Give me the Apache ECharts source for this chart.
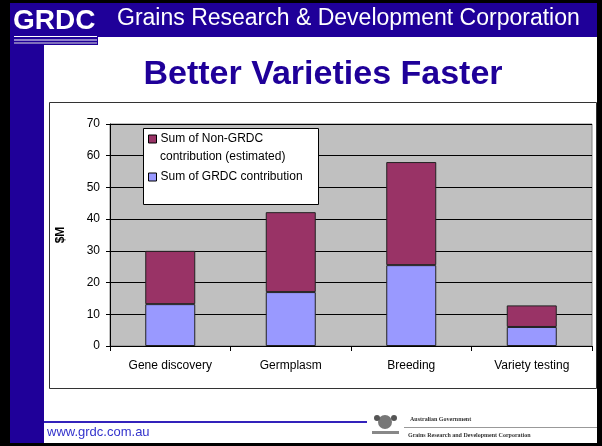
<!DOCTYPE html>
<html>
<head>
<meta charset="utf-8">
<script src="https://cdn.jsdelivr.net/npm/echarts@6/dist/echarts.min.js"></script>
<style>
html,body{margin:0;padding:0;background:#000;}
#c{width:602px;height:446px;}
</style>
</head>
<body>
<div id="c"></div>
<script>
const categories = ['Gene discovery', 'Germplasm', 'Breeding', 'Variety testing'];
const grdcValues = [13.2, 17, 25.5, 6];
const nonGrdcValues = [16.8, 25.2, 32.5, 6.8];
const yTicks = [0, 10, 20, 30, 40, 50, 60, 70];
const seriesNames = ['Sum of Non-GRDC', 'Sum of GRDC contribution'];

const BLUE = '#1f0099';
const chart = echarts.init(document.getElementById('c'), null, {renderer: 'canvas'});
const F = 'Liberation Sans, Arial, sans-serif';

chart.setOption({
  backgroundColor: '#000',
  animation: false,
  textStyle: {fontFamily: F},
  graphic: [
    // page white
    {type: 'rect', z: -10, shape: {x: 10, y: 3, width: 587, height: 440}, style: {fill: '#fff'}},
    // header bar
    {type: 'rect', z: -9, shape: {x: 10, y: 3, width: 587, height: 34}, style: {fill: BLUE}},
    // logo box
    {type: 'rect', z: -9, shape: {x: 10, y: 3, width: 88, height: 42}, style: {fill: BLUE}},
    // left strip
    {type: 'rect', z: -9, shape: {x: 10, y: 45, width: 34, height: 398}, style: {fill: BLUE}},
    {type: 'text', z: 1, left: 13, top: 7, style: {text: 'GRDC', fill: '#fff', font: 'bold 28px ' + F}},
    {type: 'rect', z: 1, shape: {x: 14, y: 36, width: 83, height: 1}, style: {fill: '#fff'}},
    {type: 'rect', z: 1, shape: {x: 14, y: 39.5, width: 83, height: 1}, style: {fill: '#fff'}},
    {type: 'rect', z: 1, shape: {x: 14, y: 42.5, width: 83, height: 1}, style: {fill: '#ddd'}},
    {type: 'text', z: 1, left: 117, top: 7, style: {text: 'Grains Research & Development Corporation', fill: '#fff', font: '23px ' + F}},
    // title
    {type: 'text', z: 1, x: 323, y: 75, style: {text: 'Better Varieties Faster', fill: BLUE, font: 'bold 34px ' + F, textAlign: 'center', textVerticalAlign: 'middle'}},
    // chart box
    {type: 'rect', z: -8, shape: {x: 49.5, y: 102.5, width: 547, height: 286}, style: {fill: '#fff', stroke: '#333', lineWidth: 1}},
    // legend box
    {type: 'rect', z: 10, shape: {x: 143.5, y: 128.5, width: 175, height: 76}, style: {fill: '#fff', stroke: '#000', lineWidth: 1}},
    {type: 'text', z: 11, x: 160, y: 157, style: {text: 'contribution (estimated)', fill: '#000', font: '12px ' + F, textVerticalAlign: 'middle'}},
    // footer
    {type: 'rect', z: 1, shape: {x: 44, y: 421, width: 323, height: 2}, style: {fill: '#3322bb'}},
    {type: 'text', z: 1, left: 47, top: 426, style: {text: 'www.grdc.com.au', fill: '#3333cc', font: '13px ' + F}},
    {type: 'rect', z: 1, shape: {x: 404, y: 427, width: 193, height: 1}, style: {fill: '#999'}},
    {type: 'text', z: 1, left: 410, top: 416, style: {text: 'Australian Government', fill: '#333', font: 'bold 6px Liberation Serif, serif'}},
    {type: 'text', z: 1, left: 408, top: 432, style: {text: 'Grains Research and Development Corporation', fill: '#333', font: 'bold 6px Liberation Serif, serif'}},
    {type: 'circle', z: 1, shape: {cx: 385, cy: 422, r: 7}, style: {fill: '#777'}},
    {type: 'circle', z: 1, shape: {cx: 377, cy: 418, r: 3}, style: {fill: '#555'}},
    {type: 'circle', z: 1, shape: {cx: 394, cy: 418, r: 3}, style: {fill: '#555'}},
    {type: 'rect', z: 1, shape: {x: 372, y: 431, width: 27, height: 3}, style: {fill: '#888'}}
  ],
  legend: {
    z: 12,
    data: seriesNames,
    orient: 'vertical',
    left: 148,
    top: 130,
    padding: 0,
    itemGap: 20,
    itemWidth: 8,
    itemHeight: 8,
    icon: 'rect',
    textStyle: {fontSize: 12, color: '#000', fontFamily: F, padding: [0, 0, 0, -1], lineHeight: 18},
    itemStyle: {borderColor: '#000', borderWidth: 1}
  },
  grid: {
    z: 1,
    left: 110, right: 10, top: 124, bottom: 100,
    show: true, backgroundColor: '#c0c0c0', borderColor: '#808080', borderWidth: 1
  },
  xAxis: {
    type: 'category',
    data: categories,
    z: 5,
    axisLine: {lineStyle: {color: '#000', width: 1}},
    axisTick: {show: true, length: 5, lineStyle: {color: '#000'}},
    axisLabel: {color: '#000', fontSize: 12, margin: 14, fontFamily: F}
  },
  yAxis: {
    type: 'value',
    z: 3,
    min: 0, max: 70, interval: 10,
    name: '$M',
    nameLocation: 'middle',
    nameGap: 43,
    nameTextStyle: {fontWeight: 'bold', fontSize: 12, color: '#000', fontFamily: F},
    axisLine: {show: true, lineStyle: {color: '#000'}},
    axisTick: {show: true, length: 4, lineStyle: {color: '#000'}},
    axisLabel: {color: '#000', fontSize: 12, margin: 10, fontFamily: F,
      formatter: v => yTicks.includes(v) ? String(v) : ''},
    splitLine: {show: true, lineStyle: {color: '#000', width: 1}}
  },
  series: [
    {
      name: seriesNames[1], type: 'bar', stack: 'a', barWidth: 50, z: 4,
      data: grdcValues,
      itemStyle: {color: '#9999ff', borderColor: '#222', borderWidth: 1}
    },
    {
      name: seriesNames[0], type: 'bar', stack: 'a', barWidth: 50, z: 4,
      data: nonGrdcValues,
      itemStyle: {color: '#993366', borderColor: '#222', borderWidth: 1}
    }
  ]
});
</script>
</body>
</html>
